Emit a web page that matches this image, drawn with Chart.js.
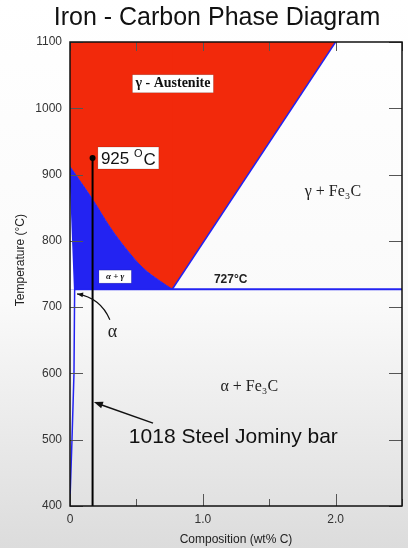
<!DOCTYPE html>
<html>
<head>
<meta charset="utf-8">
<script src="https://cdn.jsdelivr.net/npm/chart.js@4"></script>
<style>
  html, body { margin: 0; padding: 0; background: #fff; }
  #wrap { width: 408px; height: 548px; }
</style>
</head>
<body>
<div id="wrap"><canvas id="c" width="408" height="548"></canvas></div>
<script>
// phase boundaries, composition in wt% C, temperature in °C
const a3Comp = [0, 0.175, 0.30, 0.43, 0.55, 0.68, 0.77];
const a3Temp = [912, 861, 821, 786, 759, 739, 727];
const acmComp = [0.77, 2.0, 2.5];
const acmTemp = [727, 1100, 1100];
const alphaComp = [0, 0.035, 0.03, 0.015, 0];
const alphaTemp = [912, 727, 600, 500, 410];
const wedgeComp = [0, 0.035];
const wedgeTemp = [912, 727];
const eutectoidComp = [0.035, 2.5];
const eutectoidTemp = [727, 727];
const barComp = [0.17, 0.17];
const barTemp = [400, 925];

const xTicks = [0, 0.5, 1.0, 1.5, 2.0, 2.5];
const xTickLabels = ["0", "", "1.0", "", "2.0", ""];
const yTicks = [400, 500, 600, 700, 800, 900, 1000, 1100];

const RED = "#f2290b";
const BLUE = "#2323f2";

const pts = (xs, ys) => xs.map((x, i) => ({ x, y: ys[i] }));

const bgPlugin = {
  id: "bg",
  beforeDraw(chart) {
    const { ctx, height, width } = chart;
    const g = ctx.createLinearGradient(0, 0, 0, height);
    g.addColorStop(0, "#ffffff");
    g.addColorStop(0.55, "#fafafa");
    g.addColorStop(1, "#dcdcdc");
    ctx.save();
    ctx.fillStyle = g;
    ctx.fillRect(0, 0, width, height);
    ctx.restore();
  }
};

function boxText(ctx, text, cx, cy, font, padX, padY) {
  ctx.font = font;
  const w = ctx.measureText(text).width;
  const h = parseFloat(font.match(/(\d+)px/)[1]);
  ctx.fillStyle = "#fff";
  ctx.fillRect(cx - w / 2 - padX, cy - h / 2 - padY, w + 2 * padX, h + 2 * padY);
  ctx.strokeStyle = "rgba(0,0,0,0.25)";
  ctx.lineWidth = 0.6;
  ctx.strokeRect(cx - w / 2 - padX, cy - h / 2 - padY, w + 2 * padX, h + 2 * padY);
  ctx.fillStyle = "#111";
  ctx.fillText(text, cx, cy);
}

function arrowHead(ctx, x0, y0, x1, y1, len, wid) {
  const a = Math.atan2(y1 - y0, x1 - x0);
  ctx.beginPath();
  ctx.moveTo(x1, y1);
  ctx.lineTo(x1 - len * Math.cos(a) + wid * Math.sin(a), y1 - len * Math.sin(a) - wid * Math.cos(a));
  ctx.lineTo(x1 - len * Math.cos(a) - wid * Math.sin(a), y1 - len * Math.sin(a) + wid * Math.cos(a));
  ctx.closePath();
  ctx.fill();
}

const annoPlugin = {
  id: "anno",
  afterDatasetsDraw(chart) {
    const { ctx, chartArea: ca } = chart;
    const xs = chart.scales.x, ys = chart.scales.y;
    const X = (v) => xs.getPixelForValue(v);
    const Y = (v) => ys.getPixelForValue(v);
    ctx.save();

    // inward ticks + frame
    ctx.strokeStyle = "#555";
    ctx.lineWidth = 1;
    ctx.beginPath();
    yTicks.forEach((t) => {
      const y = Math.round(Y(t)) + 0.5;
      ctx.moveTo(ca.left, y); ctx.lineTo(ca.left + 13, y);
      ctx.moveTo(ca.right, y); ctx.lineTo(ca.right - 13, y);
    });
    xTicks.forEach((t) => {
      const x = Math.round(X(t)) + 0.5;
      const major = t % 1 === 0;
      ctx.moveTo(x, ca.bottom); ctx.lineTo(x, ca.bottom - (major ? 12 : 7));
      ctx.moveTo(x, ca.top); ctx.lineTo(x, ca.top + 9);
    });
    ctx.stroke();
    ctx.strokeStyle = "#111";
    ctx.lineWidth = 1.5;
    ctx.strokeRect(ca.left, ca.top, ca.right - ca.left, ca.bottom - ca.top);

    ctx.textAlign = "center";
    ctx.textBaseline = "middle";

    // region labels
    boxText(ctx, "γ - Austenite", X(0.775), Y(1037), "bold 14px 'Liberation Serif'", 3, 2);
    boxText(ctx, "α + γ", X(0.34), Y(746), "italic bold 9px 'Liberation Serif'", 7, 2);

    ctx.fillStyle = "#222";
    ctx.font = "bold 12px 'Liberation Sans'";
    ctx.fillText("727°C", X(1.21), Y(741));
    ctx.font = "16px 'Liberation Serif'";
    ctx.fillText("γ + Fe₃C", X(1.98), Y(874));
    ctx.fillText("α + Fe₃C", X(1.35), Y(580));
    ctx.font = "18px 'Liberation Serif'";
    ctx.fillText("α", X(0.32), Y(662));
    ctx.font = "21px 'Liberation Sans'";
    ctx.fillStyle = "#111";
    ctx.fillText("1018 Steel Jominy bar", X(1.23), Y(504));

    // 925 °C label
    const lx = X(0.21), ly = Y(925);
    ctx.textAlign = "left";
    ctx.font = "17px 'Liberation Sans'";
    const w1 = ctx.measureText("925 ").width;
    ctx.font = "11px 'Liberation Sans'";
    const w2 = ctx.measureText("O").width;
    ctx.font = "17px 'Liberation Sans'";
    const w3 = ctx.measureText("C").width;
    ctx.fillStyle = "#fff";
    ctx.fillRect(lx, ly - 11, w1 + w2 + w3 + 7, 22);
    ctx.strokeStyle = "rgba(0,0,0,0.25)";
    ctx.lineWidth = 0.6;
    ctx.strokeRect(lx, ly - 11, w1 + w2 + w3 + 7, 22);
    ctx.fillStyle = "#111";
    ctx.fillText("925 ", lx + 3, ly + 1);
    ctx.font = "11px 'Liberation Sans'";
    ctx.fillText("O", lx + 3 + w1, ly - 4);
    ctx.font = "17px 'Liberation Sans'";
    ctx.fillText("C", lx + 3 + w1 + w2 + 1, ly + 2);

    // y axis title
    ctx.save();
    ctx.translate(21, Y(771));
    ctx.rotate(-Math.PI / 2);
    ctx.textAlign = "center";
    ctx.font = "12px 'Liberation Sans'";
    ctx.fillStyle = "#222";
    ctx.fillText("Temperature (°C)", 0, 0);
    ctx.restore();

    // arrows
    ctx.strokeStyle = "#111";
    ctx.fillStyle = "#111";
    ctx.lineWidth = 1.5;
    let x0 = X(0.625), y0 = Y(525), x1 = X(0.18), y1 = Y(557);
    ctx.beginPath(); ctx.moveTo(x0, y0); ctx.lineTo(x1 + 5, y1 + 2); ctx.stroke();
    arrowHead(ctx, x0, y0, x1, y1, 9, 3.5);

    x0 = X(0.30); y0 = Y(681);
    const cx = X(0.23), cy = Y(714);
    x1 = X(0.053); y1 = Y(720);
    ctx.lineWidth = 1.2;
    ctx.beginPath(); ctx.moveTo(x0, y0); ctx.quadraticCurveTo(cx, cy, x1, y1); ctx.stroke();
    arrowHead(ctx, cx, cy, x1, y1, 6, 2.5);

    ctx.restore();
  }
};

new Chart(document.getElementById("c"), {
  type: "scatter",
  data: {
    datasets: [
      { data: pts(barComp, barTemp), showLine: true, borderColor: "#000", borderWidth: 2,
        pointRadius: [0, 3], pointBackgroundColor: "#000", pointBorderWidth: 0, order: 0 },
      { data: pts(eutectoidComp, eutectoidTemp), showLine: true, borderColor: BLUE, borderWidth: 2, pointRadius: 0, order: 1 },
      { data: pts(acmComp.slice(0, 2), acmTemp.slice(0, 2)), showLine: true, borderColor: BLUE, borderWidth: 1.5, pointRadius: 0, order: 1 },
      { data: pts(alphaComp, alphaTemp), showLine: true, borderColor: BLUE, borderWidth: 1.5, pointRadius: 0, order: 1 },
      { data: pts(wedgeComp, wedgeTemp), showLine: true, borderWidth: 0, pointRadius: 0,
        backgroundColor: "#ffffff", fill: { value: 727 }, order: 2 },
      // α + γ field
      { data: pts(a3Comp, a3Temp), showLine: true, cubicInterpolationMode: "monotone",
        borderColor: BLUE, borderWidth: 1, pointRadius: 0,
        backgroundColor: BLUE, fill: { value: 727 }, order: 3 },
      // γ field, left of eutectoid
      { data: pts(a3Comp, a3Temp), showLine: true, cubicInterpolationMode: "monotone",
        borderWidth: 0, pointRadius: 0, backgroundColor: RED, fill: "end", order: 4 },
      // γ field, right of eutectoid (starts one A3 point earlier so the two fills overlap)
      { data: pts([a3Comp[a3Comp.length - 2], ...acmComp], [a3Temp[a3Temp.length - 2], ...acmTemp]), showLine: true,
        borderWidth: 0, pointRadius: 0, backgroundColor: RED, fill: "end", order: 4 }
    ]
  },
  options: {
    responsive: false,
    animation: false,
    events: [],
    layout: { padding: { top: 0, right: 6, bottom: 0, left: 32 } },
    plugins: {
      legend: { display: false },
      tooltip: { enabled: false },
      title: {
        display: true,
        text: "Iron - Carbon Phase Diagram",
        color: "#111",
        font: { family: "'Liberation Sans'", size: 25, weight: "normal" },
        padding: { top: 3, bottom: 9 }
      }
    },
    scales: {
      x: {
        type: "linear", min: 0, max: 2.5,
        afterBuildTicks: (s) => { s.ticks = xTicks.map((v) => ({ value: v })); },
        afterFit: (s) => { s.height = 42; },
        grid: { display: false, drawTicks: false },
        border: { display: false },
        ticks: {
          padding: 6, maxRotation: 0, autoSkip: false,
          color: "#333", font: { family: "'Liberation Sans'", size: 12 },
          callback: (v) => xTickLabels[xTicks.indexOf(v)] ?? ""
        },
        title: {
          display: true, text: "Composition (wt% C)", color: "#222",
          font: { family: "'Liberation Sans'", size: 12 }, padding: { top: 0, bottom: 1 }
        }
      },
      y: {
        type: "linear", min: 400, max: 1100,
        afterBuildTicks: (s) => { s.ticks = yTicks.map((v) => ({ value: v })); },
        afterFit: (s) => { s.width = 38; },
        grid: { display: false, drawTicks: false },
        border: { display: false },
        ticks: {
          padding: 8, color: "#333", font: { family: "'Liberation Sans'", size: 12 },
          callback: (v) => String(v)
        }
      }
    }
  },
  plugins: [bgPlugin, annoPlugin]
});
</script>
</body>
</html>
